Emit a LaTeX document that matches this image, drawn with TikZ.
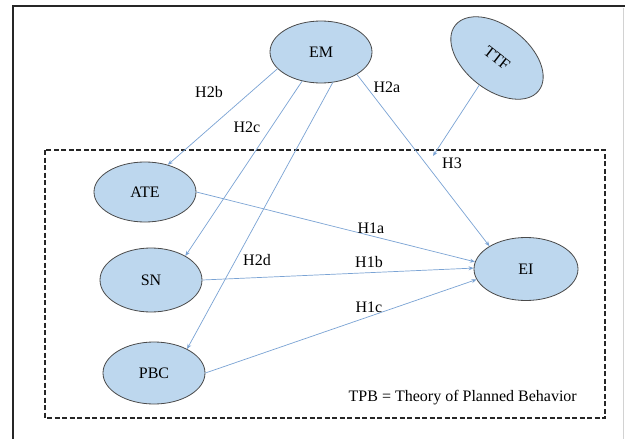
\documentclass[tikz,border=0pt]{standalone}
\usepackage{fontspec}
\setmainfont{Liberation Serif}
\usetikzlibrary{shapes.geometric,arrows.meta}
\definecolor{fillblue}{HTML}{BDD7EE}
\definecolor{edgegray}{HTML}{4A4A4A}
\definecolor{arrowblue}{HTML}{7AA3D4}
\begin{document}
\begin{tikzpicture}[x=1pt,y=-1pt,
  lat/.style={ellipse, draw=edgegray, line width=0.8pt, fill=fillblue, inner sep=0pt,
    minimum width=102pt, minimum height=63pt, font=\fontsize{16}{19}\selectfont},
  hyp/.style={draw=arrowblue, line width=0.7pt, -{Stealth[length=5pt,width=4pt]}},
  lbl/.style={inner sep=0pt, font=\fontsize{16}{19}\selectfont},
  frameline/.style={draw=black!85, line width=2pt},
  tpbbox/.style={draw=black!85, line width=1.6pt, dash pattern=on 5pt off 2.5pt}]
\useasboundingbox (0,0) rectangle (625,439);
\fill[white] (0,0) rectangle (625,439);
% outer frame
\draw[frameline] (13,439) -- (13,6) -- (625,6);
\draw[gray!35, line width=0.8pt] (623,8) -- (623,439);
% TPB box
\draw[tpbbox] (45,150) rectangle (605,418);
% nodes
\node[lat, minimum height=62pt] (EM) at (321,52) {EM};
\node[lat, minimum width=106pt, minimum height=64pt, rotate=-38] (TTF) at (497,58) {TTF};
\node[lat, minimum height=60pt] (ATE) at (145,192) {ATE};
\node[lat, minimum height=64pt] (SN) at (151,280) {SN};
\node[lat, minimum height=62pt] (PBC) at (154,373) {PBC};
\node[lat, minimum width=104pt, minimum height=63pt] (EI) at (526,269) {EI};
\coordinate (h3end) at (433,156);
% connectors
\draw[hyp] (EM.201) -- (ATE.50);
\draw[hyp] (EM.237) -- (SN.35);
\draw[hyp] (EM.291) -- (PBC.36);
\draw[hyp] (EM.328) -- (EI.148);
\draw[hyp] (TTF) -- (h3end);
\draw[hyp] (ATE.east) -- (EI.172);
\draw[hyp] (SN.east) -- (EI.179);
\draw[hyp] (PBC.east) -- (EI.192);
% labels
\node[lbl] (l2b) at (209,92) {H2b};
\node[lbl] (l2c) at (247,127) {H2c};
\node[lbl] (l2a) at (387,87) {H2a};
\node[lbl] (l3) at (452,163) {H3};
\node[lbl] (l1a) at (371,228) {H1a};
\node[lbl] (l2d) at (257,260) {H2d};
\node[lbl] (l1b) at (369,262) {H1b};
\node[lbl] (l1c) at (369,307) {H1c};
\node[lbl, anchor=east] (tpb) at (577,398) {TPB = Theory of Planned Behavior};
\end{tikzpicture}
\end{document}
